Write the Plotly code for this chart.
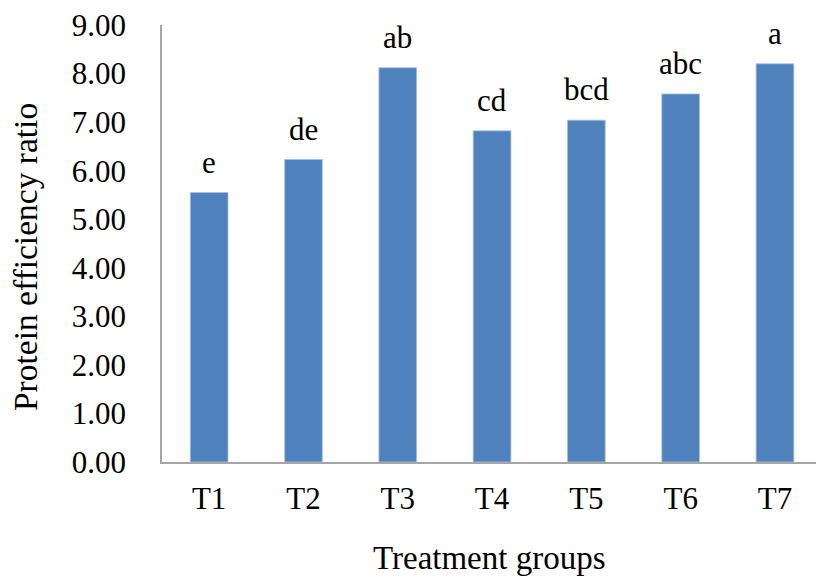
import plotly.graph_objects as go

# Protein efficiency ratio per treatment group, with significance letters
groups = ["T1", "T2", "T3", "T4", "T5", "T6", "T7"]
per_values = [5.55, 6.23, 8.12, 6.82, 7.04, 7.58, 8.20]
sig_letters = ["e", "de", "ab", "cd", "bcd", "abc", "a"]
y_ticks = [0, 1, 2, 3, 4, 5, 6, 7, 8, 9]

FONT = "Liberation Serif, Times New Roman, serif"
BAR_COLOR = "#4F81BD"
AXIS_COLOR = "#A6A6A6"

fig = go.Figure()
fig.add_trace(go.Bar(
    x=list(range(len(groups))),
    y=per_values,
    width=0.40,
    marker=dict(color=BAR_COLOR, line=dict(color="#A9C0DF", width=0.8)),
    hoverinfo="skip",
))

# significance letters above each bar
for i, (v, s) in enumerate(zip(per_values, sig_letters)):
    fig.add_annotation(
        x=i, y=v, text=s, showarrow=False,
        xref="x", yref="y", yanchor="bottom", yshift=11,
        font=dict(family=FONT, size=31, color="black"),
    )

# axis titles
fig.add_annotation(
    text="Treatment groups", showarrow=False,
    xref="paper", yref="paper", x=0.501, y=0, yanchor="top", yshift=-76,
    font=dict(family=FONT, size=33, color="black"),
)
fig.add_annotation(
    text="Protein efficiency ratio", showarrow=False, textangle=-90,
    xref="paper", yref="paper", x=0, xanchor="center", xshift=-137,
    y=0.469, yanchor="middle",
    font=dict(family=FONT, size=33.5, color="black"),
)

fig.update_layout(
    width=816, height=580,
    margin=dict(l=162, r=0, t=25, b=118),
    paper_bgcolor="white", plot_bgcolor="white",
    showlegend=False,
    font=dict(family=FONT, size=31, color="black"),
)
fig.update_xaxes(
    range=[-0.5, 6.435],
    tickmode="array", tickvals=list(range(len(groups))), ticktext=groups,
    showline=True, linecolor=AXIS_COLOR, linewidth=1.5,
    showgrid=False, zeroline=False, ticks="",
    ticklabelstandoff=8,
    tickfont=dict(family=FONT, size=31, color="black"),
)
fig.update_yaxes(
    range=[0, 9],
    tickmode="array", tickvals=y_ticks, tickformat=".2f",
    showline=True, linecolor=AXIS_COLOR, linewidth=1.5,
    showgrid=False, zeroline=False, ticks="",
    ticklabelstandoff=28,
    tickfont=dict(family=FONT, size=31, color="black"),
)

fig.write_html("out.html")
